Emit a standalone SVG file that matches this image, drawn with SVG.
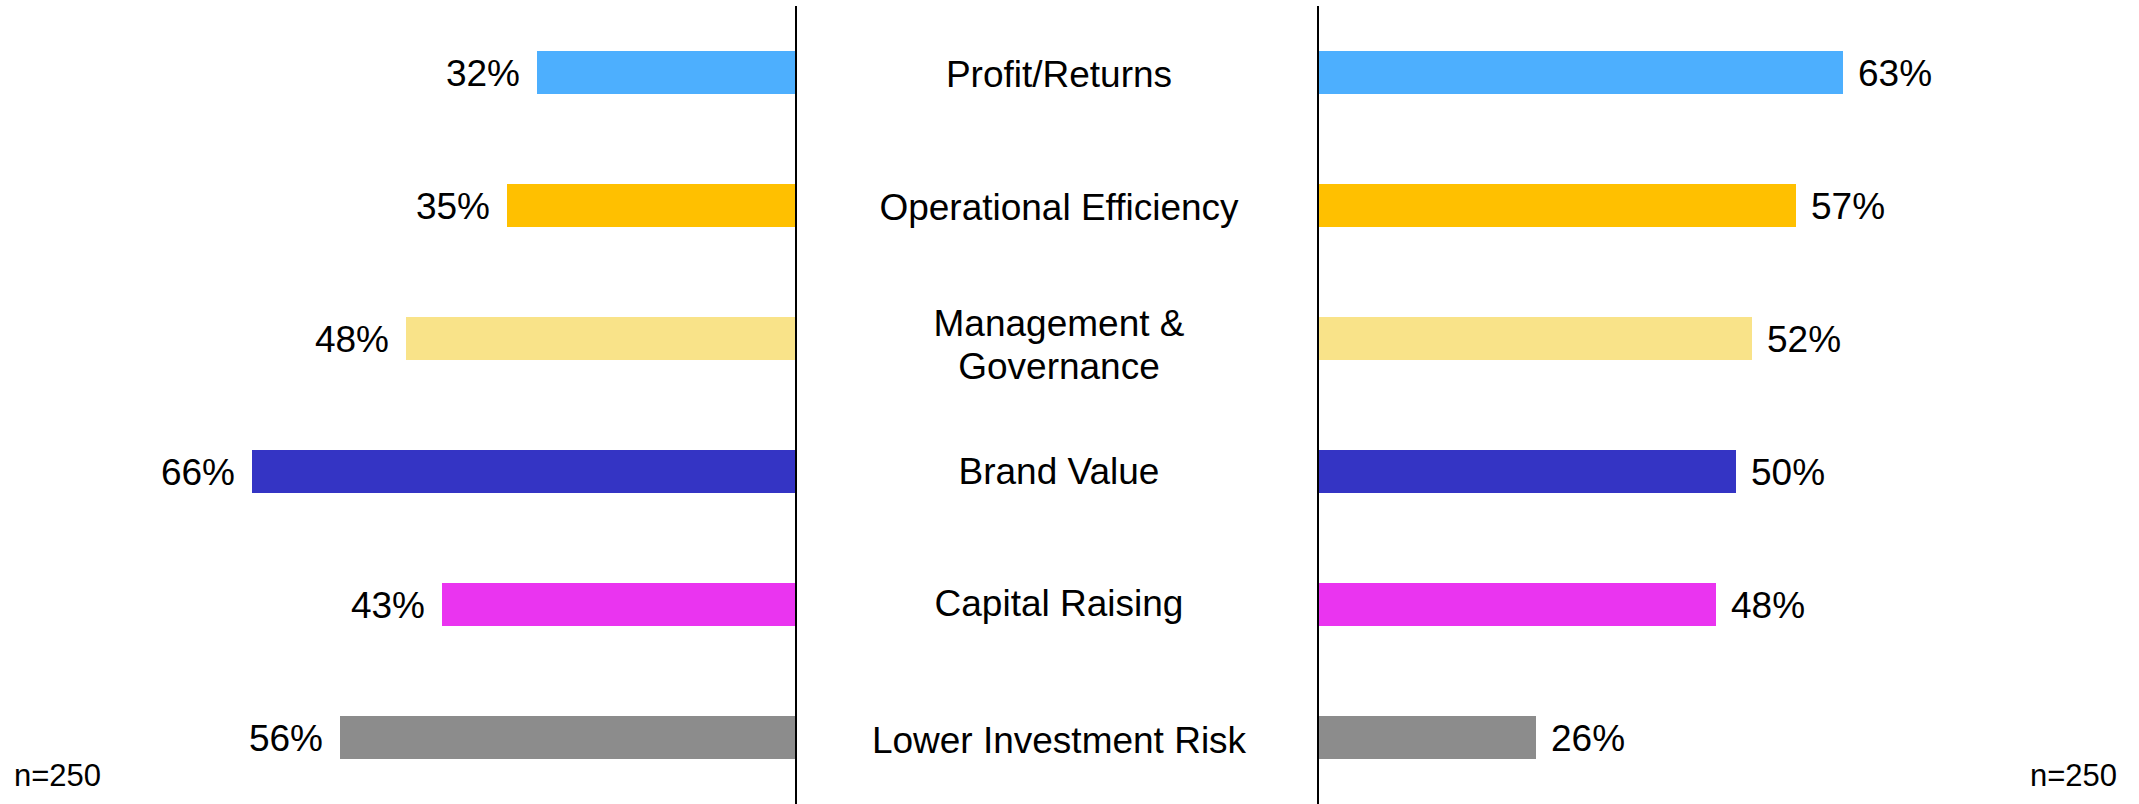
<svg xmlns="http://www.w3.org/2000/svg" width="2139" height="804" viewBox="0 0 2139 804">
<style>
text{font-family:"Liberation Sans",Arial,sans-serif;font-size:37px;fill:#000}
.l{text-anchor:end}
.c{text-anchor:middle}
.n{font-size:31px}
.b1{fill:#4DAFFE}.b2{fill:#FFC000}.b3{fill:#F9E389}.b4{fill:#3434C4}.b5{fill:#EA34F0}.b6{fill:#8C8C8C}
.ax{stroke:#000;stroke-width:2}
</style>
<rect width="2139" height="804" fill="#fff"/>
<g id="connectors">
<line class="ax" x1="796" y1="6" x2="796" y2="804"/>
<line class="ax" x1="1318" y1="6" x2="1318" y2="804"/>
</g>
<g id="row-profit">
<rect class="b1" x="537" y="51" width="258" height="43"/>
<text class="l" x="520" y="86">32%</text>
<text class="c" x="1059" y="87">Profit/Returns</text>
<rect class="b1" x="1319" y="51" width="524" height="43"/>
<text x="1858" y="86">63%</text>
</g>
<g id="row-operational">
<rect class="b2" x="507" y="184" width="288" height="43"/>
<text class="l" x="490" y="219">35%</text>
<text class="c" x="1059" y="220">Operational Efficiency</text>
<rect class="b2" x="1319" y="184" width="477" height="43"/>
<text x="1811" y="219">57%</text>
</g>
<g id="row-management">
<rect class="b3" x="406" y="317" width="389" height="43"/>
<text class="l" x="389" y="352">48%</text>
<text class="c" x="1059" y="336">Management &amp;</text>
<text class="c" x="1059" y="379">Governance</text>
<rect class="b3" x="1319" y="317" width="433" height="43"/>
<text x="1767" y="352">52%</text>
</g>
<g id="row-brand">
<rect class="b4" x="252" y="450" width="543" height="43"/>
<text class="l" x="235" y="485">66%</text>
<text class="c" x="1059" y="484">Brand Value</text>
<rect class="b4" x="1319" y="450" width="417" height="43"/>
<text x="1751" y="485">50%</text>
</g>
<g id="row-capital">
<rect class="b5" x="442" y="583" width="353" height="43"/>
<text class="l" x="425" y="618">43%</text>
<text class="c" x="1059" y="616">Capital Raising</text>
<rect class="b5" x="1319" y="583" width="397" height="43"/>
<text x="1731" y="618">48%</text>
</g>
<g id="row-risk">
<rect class="b6" x="340" y="716" width="455" height="43"/>
<text class="l" x="323" y="751">56%</text>
<text class="c" x="1059" y="753">Lower Investment Risk</text>
<rect class="b6" x="1319" y="716" width="217" height="43"/>
<text x="1551" y="751">26%</text>
</g>
<g id="notes">
<text class="n" x="14" y="786">n=250</text>
<text class="n l" x="2117" y="786">n=250</text>
</g>
</svg>
